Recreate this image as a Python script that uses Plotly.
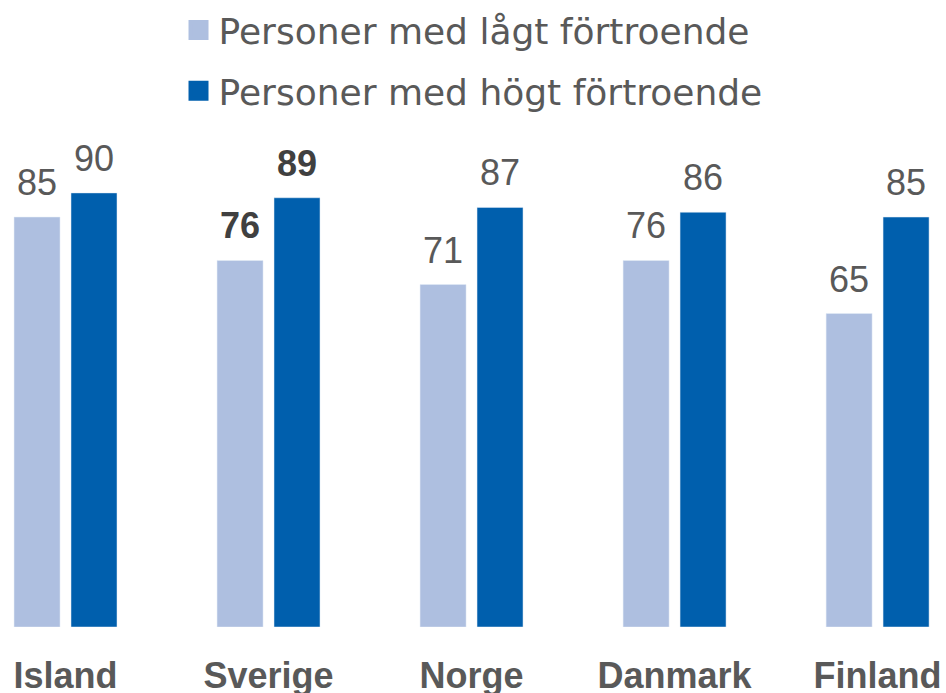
import plotly.graph_objects as go

countries = ["Island", "Sverige", "Norge", "Danmark", "Finland"]
low_trust = [85, 76, 71, 76, 65]
high_trust = [90, 89, 87, 86, 85]
series_names = ["Personer med lågt förtroende", "Personer med högt förtroende"]
highlight = "Sverige"

LIGHT = "#AEBFE0"
DARK = "#005FAD"
GREY = "#595959"
DARKGREY = "#404040"
LEGEND_FONT = "DejaVu Sans"
NUM_FONT = "Liberation Sans"

bw = 0.2266   # bar width (category units)
gap = 0.054   # gap between the two bars in a group

fig = go.Figure()
fig.add_trace(go.Bar(
    x=countries, y=low_trust, name=series_names[0], marker_color=LIGHT,
    width=bw, offset=-(bw + gap / 2), showlegend=False, cliponaxis=False,
))
fig.add_trace(go.Bar(
    x=countries, y=high_trust, name=series_names[1], marker_color=DARK,
    width=bw, offset=gap / 2, showlegend=False, cliponaxis=False,
))

# value labels above each bar
for vals, centre in [(low_trust, -(bw + gap) / 2), (high_trust, (bw + gap) / 2)]:
    for i, (c, v) in enumerate(zip(countries, vals)):
        bold = c == highlight
        fig.add_annotation(
            x=i + centre, y=v, xref="x", yref="y",
            text=f"<b>{v}</b>" if bold else f"{v}",
            showarrow=False, yanchor="bottom", xanchor="center", yshift=12,
            font=dict(size=36, family=NUM_FONT, color=DARKGREY if bold else GREY),
        )

# legend entries
for nm, col in zip(series_names, [LIGHT, DARK]):
    fig.add_trace(go.Scatter(
        x=[None], y=[None], mode="markers", name=nm, legendgroup=nm,
        marker=dict(symbol="square", size=16, color=col, line=dict(color=col, width=4)),
    ))

fig.update_layout(
    width=946, height=693,
    margin=dict(l=0, r=0, t=0, b=66),
    paper_bgcolor="white", plot_bgcolor="white",
    barmode="overlay",
    font=dict(family=LEGEND_FONT, color=GREY),
    legend=dict(
        x=0.1887, y=1.0, xanchor="left", yanchor="top",
        font=dict(size=36, color=GREY, family=LEGEND_FONT),
        itemsizing="trace", traceorder="grouped", tracegroupgap=11,
        bgcolor="rgba(0,0,0,0)",
    ),
    xaxis=dict(
        range=[-0.3227, 4.337], showgrid=False, showline=False, zeroline=False,
        ticks="", ticklabelstandoff=24, automargin=False,
        tickfont=dict(size=36, color=GREY, family=NUM_FONT, weight="bold"),
    ),
    yaxis=dict(range=[0, 130], visible=False, showgrid=False, automargin=False),
)

fig.write_html(
    "out.html",
    config={"displayModeBar": False},
    post_script="document.body.style.margin='0';",
)
